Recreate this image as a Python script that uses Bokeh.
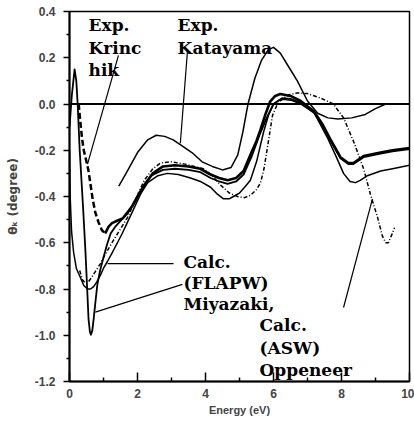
from bokeh.plotting import figure
from bokeh.models import Span, FixedTicker, Range1d, NumeralTickFormatter, ColumnDataSource
from bokeh.core.properties import value
from bokeh.embed import file_html
from bokeh.resources import INLINE

# ---- data (energy in eV, Kerr rotation in degree) ----
katayama_e = [1.45, 1.7, 2.0, 2.3, 2.55, 2.8, 3.05, 3.3, 3.6, 3.9, 4.2, 4.5, 4.75, 4.95, 5.1, 5.25,
              5.45, 5.65, 5.85, 6.0, 6.2, 6.45, 6.7, 7.0, 7.3, 7.6, 7.9, 8.3, 8.7, 9.0, 9.3, 10.0]
katayama_t = [-0.355, -0.29, -0.21, -0.155, -0.135, -0.14, -0.155, -0.18, -0.21, -0.25, -0.27, -0.285,
              -0.275, -0.22, -0.12, 0.0, 0.11, 0.19, 0.235, 0.245, 0.22, 0.16, 0.1, 0.013, -0.04, -0.06,
              -0.065, -0.06, -0.045, -0.02, 0.0, 0.0]

krinchik_dash_e = [0.27, 0.32, 0.37, 0.42, 0.5, 0.56, 0.62, 0.68, 0.76, 0.85, 0.95, 1.05]
krinchik_dash_t = [0.0, -0.08, -0.15, -0.2, -0.25, -0.29, -0.35, -0.41, -0.47, -0.51, -0.545, -0.56]

krinchik_e = [1.05, 1.15, 1.25, 1.4, 1.56, 1.7, 1.85, 2.0, 2.2, 2.45, 2.75, 3.1, 3.5, 3.85, 4.15, 4.4,
              4.65, 4.9, 5.12, 5.35, 5.5, 5.62, 5.75, 5.9, 6.05, 6.2, 6.5, 6.8, 7.18, 7.45, 7.7, 7.97,
              8.2, 8.35, 8.65, 9.15, 9.5, 10.0]
krinchik_t = [-0.56, -0.53, -0.515, -0.505, -0.495, -0.47, -0.44, -0.4, -0.35, -0.3, -0.27, -0.265,
              -0.27, -0.28, -0.305, -0.32, -0.33, -0.32, -0.29, -0.21, -0.16, -0.11, -0.05, 0.01, 0.035,
              0.043, 0.035, 0.013, -0.03, -0.09, -0.16, -0.23, -0.255, -0.255, -0.225, -0.21, -0.2, -0.19]

flapw1_e = [0.0, 0.07, 0.15, 0.2, 0.24, 0.3, 0.4, 0.47, 0.52, 0.56, 0.6, 0.63, 0.67, 0.71, 0.76, 0.82,
            0.9, 0.97, 1.1, 1.21, 1.35, 1.5, 1.7, 1.9, 2.1, 2.4, 2.75, 3.1, 3.5, 3.85, 4.15, 4.4, 4.65,
            4.9, 5.12, 5.35, 5.6, 5.8, 6.0, 6.25, 6.5, 6.8, 7.18, 7.45, 7.7, 7.97, 8.2, 8.35, 8.65,
            9.15, 9.5, 10.0]
flapw1_t = [-0.1, 0.04, 0.15, 0.1, 0.0, -0.2, -0.45, -0.64, -0.8, -0.93, -0.985, -0.998, -0.98, -0.93,
            -0.86, -0.78, -0.72, -0.68, -0.61, -0.56, -0.53, -0.505, -0.475, -0.43, -0.375, -0.31,
            -0.285, -0.28, -0.285, -0.295, -0.32, -0.335, -0.345, -0.335, -0.305, -0.23, -0.13, -0.06,
            0.0, 0.025, 0.022, 0.005, -0.035, -0.095, -0.165, -0.235, -0.26, -0.26, -0.23, -0.215,
            -0.205, -0.195]

flapw2_e = [0.0, 0.02, 0.06, 0.12, 0.2, 0.32, 0.42, 0.53, 0.62, 0.71, 0.8, 0.91, 1.0, 1.12, 1.25, 1.41,
            1.55, 1.71, 1.9, 2.09, 2.3, 2.6, 2.88, 3.2, 3.56, 3.85, 4.15, 4.35, 4.53, 4.7, 4.82, 5.0,
            5.15, 5.32, 5.5, 5.71, 5.85, 6.0, 6.15, 6.3, 6.55, 6.8, 7.2, 7.6, 7.85, 8.06, 8.25, 8.41,
            8.55, 8.76, 9.15, 9.5, 10.0]
flapw2_t = [-0.2, -0.4, -0.55, -0.64, -0.71, -0.75, -0.785, -0.8, -0.8, -0.79, -0.77, -0.74, -0.71,
            -0.68, -0.645, -0.6, -0.56, -0.51, -0.45, -0.39, -0.34, -0.31, -0.3, -0.305, -0.32, -0.335,
            -0.36, -0.39, -0.41, -0.41, -0.4, -0.385, -0.36, -0.33, -0.25, -0.12, -0.05, 0.0, 0.015,
            0.02, 0.015, 0.0, -0.04, -0.15, -0.23, -0.3, -0.335, -0.34, -0.33, -0.31, -0.29, -0.28,
            -0.265]

asw_e = [0.3, 0.38, 0.47, 0.55, 0.65, 0.78, 0.91, 1.05, 1.29, 1.5, 1.71, 1.95, 2.2, 2.45, 2.68, 3.0,
         3.4, 3.94, 4.2, 4.44, 4.7, 4.94, 5.15, 5.32, 5.5, 5.62, 5.72, 5.82, 5.97, 6.1, 6.2, 6.45, 6.7,
         7.0, 7.38, 7.76, 8.06, 8.35, 8.65, 8.85, 9.06, 9.2, 9.3, 9.38, 9.48, 9.56]
asw_t = [-0.72, -0.76, -0.775, -0.77, -0.75, -0.72, -0.69, -0.65, -0.59, -0.54, -0.49, -0.41, -0.33,
         -0.28, -0.255, -0.25, -0.26, -0.28, -0.31, -0.35, -0.385, -0.4, -0.405, -0.395, -0.37, -0.34,
         -0.28, -0.19, -0.05, -0.005, 0.015, 0.04, 0.048, 0.045, 0.026, 0.0, -0.06, -0.16, -0.28,
         -0.39, -0.49, -0.57, -0.6, -0.6, -0.565, -0.535]

x_ticks = [0, 2, 4, 6, 8, 10]
x_minor = [1, 3, 5, 7, 9]
y_ticks = [-1.2, -1.0, -0.8, -0.6, -0.4, -0.2, 0.0, 0.2, 0.4]
y_minor = [-1.1, -0.9, -0.7, -0.5, -0.3, -0.1, 0.1, 0.3]

label_x = [0.56, 0.56, 0.56, 3.18, 3.18, 3.35, 3.35, 3.35, 5.59, 5.59, 5.59]
label_y = [0.342, 0.243, 0.148, 0.342, 0.243, -0.684, -0.775, -0.865, -0.956, -1.056, -1.151]
label_text = ["Exp.", "Krinc", "hik", "Exp.", "Katayama", "Calc.", "(FLAPW)", "Miyazaki,",
              "Calc.", "(ASW)", "Oppeneer"]

leader_x0 = [1.44, 3.47, 3.06, 3.32, 8.06]
leader_y0 = [0.21, 0.23, -0.69, -0.78, -0.88]
leader_x1 = [0.53, 3.26, 1.12, 0.76, 8.91]
leader_y1 = [-0.26, -0.17, -0.69, -0.90, -0.41]

# ---- figure ----
p = figure(frame_width=340, frame_height=370, x_range=Range1d(0, 10), y_range=Range1d(-1.2, 0.4),
           output_backend="svg", toolbar_location=None,
           min_border_left=69, min_border_right=5, min_border_top=11, min_border_bottom=45)
p.grid.visible = False
p.background_fill_color = "white"
p.border_fill_color = "white"
p.outline_line_color = "black"
p.outline_line_width = 1.5

xa = p.xaxis[0]
xa.ticker = FixedTicker(ticks=x_ticks, minor_ticks=x_minor)
xa.major_tick_in = 9
xa.major_tick_out = 0
xa.minor_tick_in = 4
xa.minor_tick_out = 0
xa.axis_line_width = 2
xa.major_tick_line_width = 1.5
xa.minor_tick_line_width = 1.5
xa.major_label_standoff = 7
xa.major_label_text_font = "Liberation Sans"
xa.major_label_text_font_style = "bold"
xa.major_label_text_font_size = "12px"
xa.axis_label = "Energy (eV)"
xa.axis_label_text_font = "Liberation Sans"
xa.axis_label_text_font_style = "bold"
xa.axis_label_text_font_size = "11px"
xa.axis_label_standoff = 3

ya = p.yaxis[0]
ya.ticker = FixedTicker(ticks=y_ticks, minor_ticks=y_minor)
ya.formatter = NumeralTickFormatter(format="0.0")
ya.major_tick_in = 0
ya.major_tick_out = 6
ya.minor_tick_in = 0
ya.minor_tick_out = 3
ya.axis_line_width = 2
ya.major_tick_line_width = 1.5
ya.minor_tick_line_width = 1.5
ya.major_label_standoff = 8
ya.major_label_text_font = "Liberation Sans"
ya.major_label_text_font_style = "bold"
ya.major_label_text_font_size = "12px"
ya.axis_label = "θₖ (degree)"
ya.axis_label_text_font = "DejaVu Sans"
ya.axis_label_text_font_style = "bold"
ya.axis_label_text_font_size = "12px"
ya.axis_label_standoff = 12

p.add_layout(Span(location=0, dimension="width", line_color="black", line_width=2))

p.line(katayama_e, katayama_t, line_color="black", line_width=1.5, line_join="round")
p.line(krinchik_dash_e, krinchik_dash_t, line_color="black", line_width=2.5, line_dash="6 3")
p.line(krinchik_e, krinchik_t, line_color="black", line_width=2.6, line_join="round")
p.line(flapw1_e, flapw1_t, line_color="black", line_width=1.8, line_join="round")
p.line(flapw2_e, flapw2_t, line_color="black", line_width=1.5, line_join="round")
p.line(asw_e, asw_t, line_color="black", line_width=1.5, line_dash="4 2 1 2", line_join="round")

p.segment(x0=leader_x0, y0=leader_y0, x1=leader_x1, y1=leader_y1, line_color="black", line_width=1.2)

src = ColumnDataSource(dict(x=label_x, y=label_y, text=label_text))
p.text(x="x", y="y", text="text", source=src, text_font=value("DejaVu Serif"),
       text_font_style="bold", text_font_size="17px", text_baseline="alphabetic",
       text_align="left", text_color="black")

open("out.html", "w").write(file_html(p, INLINE))
